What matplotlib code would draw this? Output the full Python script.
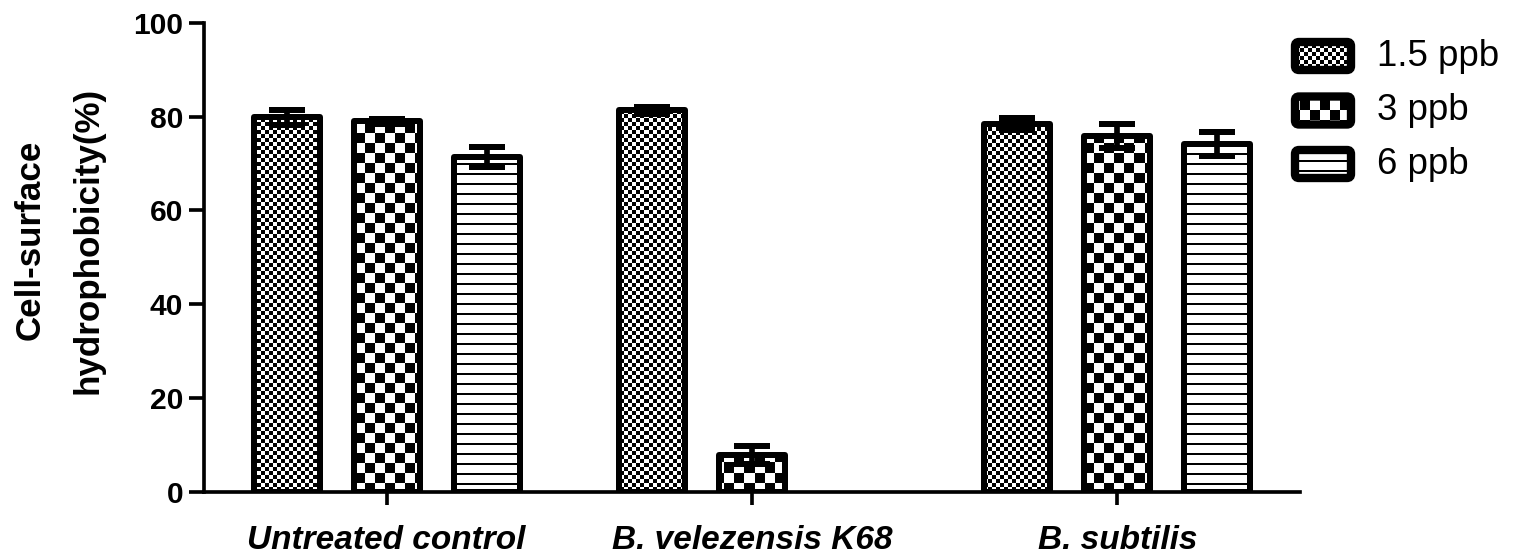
import numpy as np
import matplotlib
matplotlib.use("Agg")
import matplotlib.pyplot as plt
from matplotlib.patches import FancyBboxPatch

plt.rcParams["font.family"] = ["Liberation Sans", "DejaVu Sans"]

# data
groups = ["Untreated control", "B. velezensis K68", "B. subtilis"]
doses = ["1.5 ppb", "3 ppb", "6 ppb"]
hydro_15 = [79.8, 81.3, 78.4]
hydro_3 = [79.0, 7.9, 75.8]
hydro_6 = [71.4, np.nan, 74.1]
err_15 = [1.6, 0.8, 1.2]
err_3 = [0.5, 1.9, 2.6]
err_6 = [2.1, np.nan, 2.5]

W, H, DPI = 1519, 559, 120
fig = plt.figure(figsize=(W / DPI, H / DPI), dpi=DPI)
ax = fig.add_axes([204 / W, 1 - 491.7 / H, (1300 - 204) / W, (491.7 - 22.7) / H])
ax.set_xlim(-0.5, 2.5)
ax.set_ylim(0, 100)


def texture(kind, ny, nx):
    # one array cell = one screen pixel
    yy, xx = np.mgrid[0:ny, 0:nx]
    if kind == "fine":
        return ((yy // 4 + xx // 4) % 2).astype(float)
    if kind == "coarse":
        return ((yy // 10 + xx // 10) % 2).astype(float)
    return (yy % 10 >= 2).astype(float)


def fill_with(axis, patches, kind):
    x0, x1 = axis.get_xlim()
    y0, y1 = axis.get_ylim()
    w = int(round(axis.bbox.width))
    h = int(round(axis.bbox.height))
    arr = texture(kind, h, w)
    for p in patches:
        im = axis.imshow(arr, cmap="gray", vmin=0, vmax=1, origin="upper",
                         extent=(x0, x1, y0, y1), aspect="auto",
                         interpolation="nearest", zorder=2)
        im.set_clip_path(p)
    axis.set_xlim(x0, x1)
    axis.set_ylim(y0, y1)


x = np.arange(len(groups))
pitch = 0.274
width = 0.181
series = [(hydro_15, err_15, "fine"), (hydro_3, err_3, "coarse"), (hydro_6, err_6, "lines")]

for i, (vals, errs, kind) in enumerate(series):
    pos = x + (i - 1) * pitch
    bars = ax.bar(pos, vals, width, facecolor="none", edgecolor="black",
                  linewidth=3.6, joinstyle="round", zorder=3)
    keep = [b for b, v in zip(bars, vals) if np.isfinite(v)]
    fill_with(ax, keep, kind)
    ax.errorbar(pos, vals, yerr=errs, fmt="none", ecolor="black",
                elinewidth=3.4, capsize=11, capthick=3.6, zorder=4)

for s in ["top", "right"]:
    ax.spines[s].set_visible(False)
for s in ["left", "bottom"]:
    ax.spines[s].set_linewidth(2.2)

ax.set_yticks(np.arange(0, 101, 20))
ax.tick_params(axis="y", length=9, width=2.2, pad=3.5, labelsize=18)
for t in ax.get_yticklabels():
    t.set_fontweight("bold")
ax.set_xticks(x)
ax.set_xticklabels(groups, fontstyle="italic", fontweight="bold", fontsize=20)
ax.tick_params(axis="x", length=8, width=2.2, pad=12)

fig.text(59 / W, 1 - 240 / H, "Cell-surface\nhydrophobicity(%)", rotation=90,
         ha="center", va="center", multialignment="center", fontsize=21,
         fontweight="bold", linespacing=1.95)

# legend drawn by hand so the swatches get the same textures
lax = fig.add_axes([1280 / W, 1 - 200 / H, 239 / W, 180 / H])
lax.set_xlim(0, 239)
lax.set_ylim(200, 20)
lax.axis("off")
swatches = []
for k, (label, yc) in enumerate(zip(doses, [56, 110.5, 164])):
    box = FancyBboxPatch((15, yc - 14), 56, 28, boxstyle="round,pad=0,rounding_size=4",
                         facecolor="none", edgecolor="black", linewidth=5, zorder=3)
    lax.add_patch(box)
    swatches.append(box)
    lax.text(97, yc, label, fontsize=22, va="center", ha="left")
for box, (_, _, kind) in zip(swatches, series):
    fill_with(lax, [box], kind)
lax.set_ylim(200, 20)

fig.savefig("out.png", dpi=DPI)
